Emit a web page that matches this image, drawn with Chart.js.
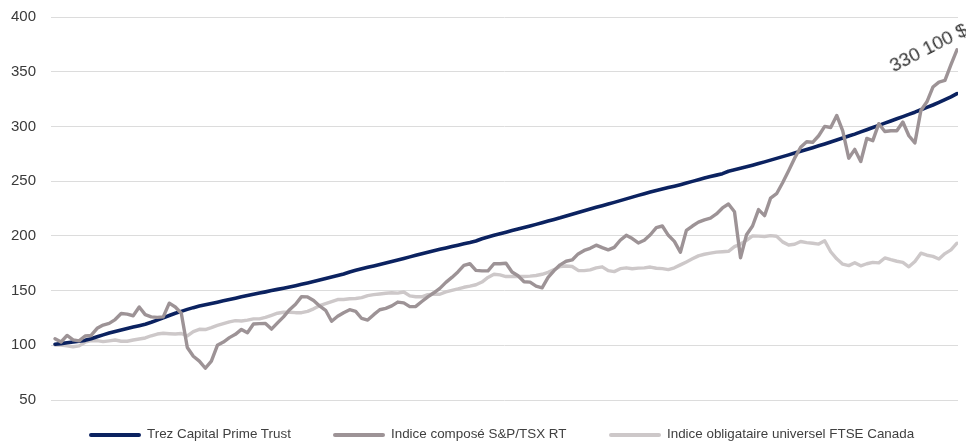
<!DOCTYPE html>
<html>
<head>
<meta charset="utf-8">
<script src="https://cdn.jsdelivr.net/npm/chart.js@4/dist/chart.umd.min.js"></script>
<style>
  html, body { margin: 0; padding: 0; background: #ffffff; }
  body { width: 966px; height: 442px; overflow: hidden; position: relative; font-family: "Liberation Sans", Arial, sans-serif; }
  #wrap { position: absolute; left: 0; top: 0; width: 966px; height: 442px; }
  .lg { position: absolute; top: 426px; height: 16px; display: flex; align-items: center; font-size: 13.4px; line-height: 16px; color: #404040; white-space: nowrap; }
  .sw { display: inline-block; width: 52px; height: 4px; border-radius: 2px; margin-right: 6px; margin-top: 1px; }
  #note { position: absolute; left: 895px; top: 57px; font-size: 19px; line-height: 18px; color: #333333; white-space: nowrap; transform-origin: 0 100%; transform: rotate(-27deg); }
</style>
</head>
<body>
<div id="wrap"><canvas id="c" width="966" height="442"></canvas></div>
<div id="note">330 100 $</div>
<div class="lg" style="left:89px"><span class="sw" style="background:#0b2260"></span>Trez Capital Prime Trust</div>
<div class="lg" style="left:333px"><span class="sw" style="background:#9d9396"></span>Indice composé S&amp;P/TSX RT</div>
<div class="lg" style="left:609px"><span class="sw" style="background:#cdc8c9"></span>Indice obligataire universel FTSE Canada</div>
<script>
const seriesNames = ["Trez Capital Prime Trust", "Indice composé S&P/TSX RT", "Indice obligataire universel FTSE Canada"];

const trez = [101,101.5,102.3,103,103.8,104.5,106,107.8,109.5,111.2,112.6,114,115.3,116.6,117.9,119.3,121,123,125,127.2,
129.3,131,132.8,134.4,135.8,137,138.2,139.4,140.6,141.8,143,144.3,145.4,146.6,147.7,148.8,150,151.1,152.2,153.3,
154.5,155.8,157,158.3,159.6,161,162.3,163.7,165.2,167,168.5,169.9,171.2,172.5,173.8,175.1,176.5,177.9,179.3,180.8,
182.3,183.7,185.1,186.4,187.7,189,190.3,191.5,192.7,193.9,195.3,197.4,199,200.6,202,203.4,204.8,206.2,207.6,209,
210.5,212,213.5,215,216.5,218.2,219.8,221.4,223,224.6,226.1,227.6,229.1,230.6,232.2,233.8,235.4,237,238.5,240,
241.5,242.8,244.1,245.4,246.8,248.3,249.8,251.3,252.8,254.2,255.5,256.8,259,260.3,261.7,263.1,264.6,266.1,267.6,269.2,
270.8,272.4,274,275.7,277.4,279,280.6,282.3,284,285.8,287.6,289.4,291.2,293,295,297,299,301,303,305,
307,309,311,313,315.2,317.4,319.6,322,324.5,327,330];

const tsx = [106,103,109,105,104,108.5,109,115.5,118.5,120,123.5,129,128.5,127,135,128,126,125.5,126,138.5,
135,129.3,98,90,85.5,79,85.5,100,103,107,110,114.5,111.5,119.5,119.8,120,114.8,120.5,126,132.5,
137.5,144.5,144.2,141,136,132,122,126.5,129.8,132.5,131,124.5,123,128,132.5,133.8,136,139.5,138.8,135.3,
135.5,140,144.3,148,152,157.5,162,167,173,174.5,168.5,168,168,174.5,174.5,175,167,163.5,158,157.7,
154,152.5,162,168.3,173.5,176.8,178,183.5,186.7,188.6,191.5,189.2,187.2,189.5,196,200.5,197.5,193.5,196,201,
207.6,209,200.5,195,185,205,209,212.5,214.6,216.2,220,225.5,229.1,222,180,201,209,224,218.5,234.5,
238.5,248.5,259.5,271,281,286,285.5,291.5,300,299,310,296,271,279,268,289,287,302.5,295.4,296,
296,304,291.5,285,314.5,322.5,336,340.5,342,356.4,370];

const bonds = [100.3,100.3,99.5,98.7,99.5,102.8,104.3,104.2,103.3,104,104.8,103.7,103.7,104.8,105.7,106.7,108.7,110.3,111,110.6,
110.3,110.8,108.5,112.5,114.6,114.4,116.2,118.2,119.8,121.4,122.5,122.2,123,124.1,124.1,125.6,127.4,129.3,130.2,130.2,
129.8,129.8,131,133.3,136.2,138,139.9,141.8,141.8,142.5,142.8,143.6,145.4,146.3,146.9,147.6,148,147.7,148.7,145.1,
144.4,144.3,146.3,146.6,146.6,148.8,150.2,151.5,153,154,155.3,157.8,162,164.9,164.3,162.8,162.9,162.8,162.8,163.2,
163.8,164.9,166.7,169.1,171.9,172.5,172,168.4,168.2,168.9,170.7,171.7,168.2,167.3,170,170.8,169.9,170.5,170.7,171.5,
170.4,170.1,169.2,170.8,173.5,176.2,179,181.7,183.2,184.2,185.1,185.5,185.9,190.2,192.5,195.9,200,199.8,199.4,200.2,
199.7,194.5,191.6,192.3,194.8,193.8,193.2,192.5,195.5,185.5,179,174.1,172.8,175.5,172.6,174.5,175.8,175.3,179.8,178.2,
176.8,175.8,171.7,176.6,184.2,182.3,181.3,178.9,183.8,187.2,193.3];

const periods = trez.map((_, i) => i);
const yTicks = [50, 100, 150, 200, 250, 300, 350, 400];

const toXY = arr => arr.map((v, i) => ({ x: periods[i], y: v }));

new Chart(document.getElementById('c'), {
  type: 'line',
  data: {
    datasets: [
      { label: seriesNames[0], data: toXY(trez), borderColor: '#0b2260', backgroundColor: '#0b2260', borderWidth: 3.6, pointRadius: 0, tension: 0, order: 1, borderJoinStyle: 'round', borderCapStyle: 'round' },
      { label: seriesNames[1], data: toXY(tsx), borderColor: '#9d9396', backgroundColor: '#9d9396', borderWidth: 3.4, pointRadius: 0, tension: 0, order: 0, borderJoinStyle: 'round', borderCapStyle: 'round' },
      { label: seriesNames[2], data: toXY(bonds), borderColor: '#cdc8c9', backgroundColor: '#cdc8c9', borderWidth: 3.4, pointRadius: 0, tension: 0, order: 2, borderJoinStyle: 'round', borderCapStyle: 'round' }
    ]
  },
  options: {
    responsive: false,
    animation: false,
    layout: { padding: { top: 17, right: 8, bottom: 42, left: 0 } },
    plugins: { legend: { display: false }, tooltip: { enabled: false } },
    scales: {
      x: { type: 'linear', display: false, min: -0.67, max: periods.length - 1 + 0.17 },
      y: {
        min: yTicks[0], max: yTicks[yTicks.length - 1],
        afterFit: s => { s.width = 51; s.paddingTop = 0; s.paddingBottom = 0; },
        afterBuildTicks: s => { s.ticks = yTicks.map(v => ({ value: v })); },
        border: { display: false },
        grid: { color: '#dcdcdc', lineWidth: 1, drawTicks: false },
        ticks: { padding: 15, color: '#3a3a3a', font: { family: '"Liberation Sans", Arial, sans-serif', size: 15 } }
      }
    }
  }
});
</script>
</body>
</html>
